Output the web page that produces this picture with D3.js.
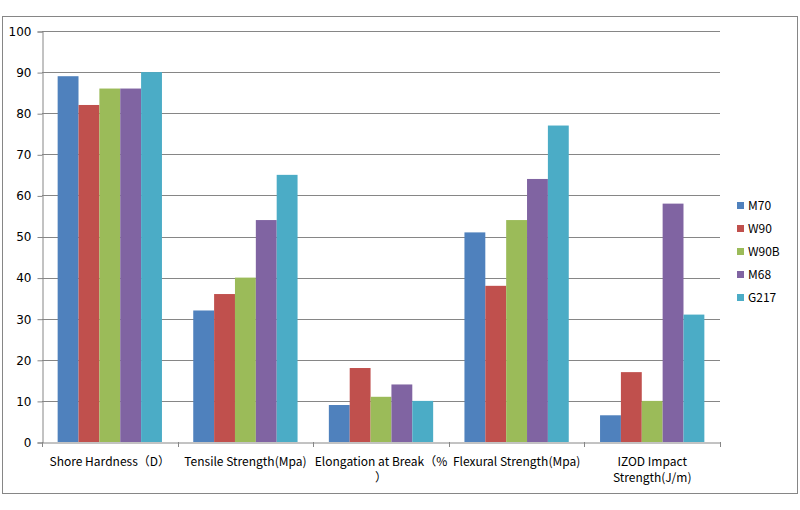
<!DOCTYPE html>
<html>
<head>
<meta charset="utf-8">
<script src="https://cdn.jsdelivr.net/npm/d3@7"></script>
<style>
  body { margin: 0; background: #fff; }
  text { font-family: "Noto Sans CJK SC", "DejaVu Sans", sans-serif; fill: #000; }
</style>
</head>
<body>
<div id="svgcontainer"></div>
<script>
var categories = [
  ["Shore Hardness（D）"],
  ["Tensile Strength(Mpa)"],
  ["Elongation at Break（%", "）"],
  ["Flexural Strength(Mpa)"],
  ["IZOD Impact", "Strength(J/m)"]
];
var series = ["M70", "W90", "W90B", "M68", "G217"];
var colors = ["#4F81BD", "#C0504D", "#9BBB59", "#8064A2", "#4BACC6"];
var M70  = [89, 32, 9, 51, 6.5];
var W90  = [82, 36, 18, 38, 17];
var W90B = [86, 40, 11, 54, 10];
var M68  = [86, 54, 14, 64, 58];
var G217 = [90, 65, 10, 77, 31];
var values = [M70, W90, W90B, M68, G217];
var yTicks = [0, 10, 20, 30, 40, 50, 60, 70, 80, 90, 100];

var width = 800, height = 510;
var plotLeft = 42, plotRight = 720, plotTop = 31, plotBottom = 442;

var svg = d3.select("#svgcontainer")
    .append("svg")
    .attr("width", width)
    .attr("height", height);

// outer border
svg.append("rect")
  .attr("x", 2.5).attr("y", 16.5)
  .attr("width", 795).attr("height", 477)
  .style("fill", "#fff")
  .style("stroke", "#868686")
  .style("stroke-width", 1);

var x = d3.scaleBand()
  .domain(d3.range(categories.length))
  .range([plotLeft, plotRight])
  .paddingInner(0)
  .paddingOuter(0);

var x1 = d3.scaleBand()
  .domain(d3.range(series.length))
  .range([0, x.bandwidth()])
  .paddingOuter(0.75)
  .paddingInner(0);

var y = d3.scaleLinear().domain([0, 100]).range([plotBottom, plotTop]);

// gridlines
svg.selectAll(".grid")
  .data(yTicks.slice(1))
  .enter().append("line")
  .attr("x1", plotLeft).attr("x2", plotRight)
  .attr("y1", function(d){ return Math.round(y(d)) + 0.5; })
  .attr("y2", function(d){ return Math.round(y(d)) + 0.5; })
  .style("stroke", "#868686")
  .style("stroke-width", 1);

// bars
values.forEach(function(vals, s){
  svg.selectAll(".bar" + s)
    .data(vals)
    .enter().append("rect")
    .attr("x", function(d, i){ return x(i) + x1(s); })
    .attr("width", x1.bandwidth())
    .attr("y", function(d){ return y(d); })
    .attr("height", function(d){ return y(0) - y(d); })
    .style("fill", colors[s]);
});

// y axis
var yAxis = d3.axisLeft(y).tickValues(yTicks).tickSize(5).tickPadding(6);
var ya = svg.append("g")
  .attr("transform", "translate(" + (plotLeft + 0.5) + ",0.5)")
  .call(yAxis);
ya.select(".domain").style("stroke", "#868686");
ya.selectAll(".tick line").style("stroke", "#868686");
ya.selectAll(".tick text")
  .style("font-size", "12px")
  .style("font-family", "'DejaVu Sans', sans-serif")
  .attr("fill", "#000");

// x axis
var xAxis = d3.axisBottom(x).tickSize(0).tickFormat("");
var xa = svg.append("g")
  .attr("transform", "translate(0," + (plotBottom + 0.5) + ")")
  .call(xAxis);
xa.select(".domain").style("stroke", "#868686");
// boundary ticks
svg.selectAll(".xtick")
  .data(d3.range(categories.length + 1))
  .enter().append("line")
  .attr("x1", function(i){ return Math.round(plotLeft + i * x.bandwidth()) + 0.5; })
  .attr("x2", function(i){ return Math.round(plotLeft + i * x.bandwidth()) + 0.5; })
  .attr("y1", plotBottom).attr("y2", plotBottom + 5)
  .style("stroke", "#868686");

// category labels
categories.forEach(function(lines, i){
  var t = svg.append("text")
    .attr("x", x(i) + x.bandwidth() / 2)
    .attr("y", 466)
    .attr("text-anchor", "middle")
    .style("font-size", "12px");
  lines.forEach(function(l, k){
    t.append("tspan")
      .attr("x", x(i) + x.bandwidth() / 2)
      .attr("dy", k === 0 ? 0 : 16)
      .text(l);
  });
});

// legend
var lg = svg.selectAll(".legend")
  .data(series)
  .enter().append("g")
  .attr("transform", function(d, i){ return "translate(737," + (202 + i * 23) + ")"; });
lg.append("rect")
  .attr("width", 7).attr("height", 7)
  .style("fill", function(d, i){ return colors[i]; });
lg.append("text")
  .attr("x", 11).attr("y", 8)
  .style("font-size", "12px")
  .text(function(d){ return d; });
</script>
</body>
</html>
